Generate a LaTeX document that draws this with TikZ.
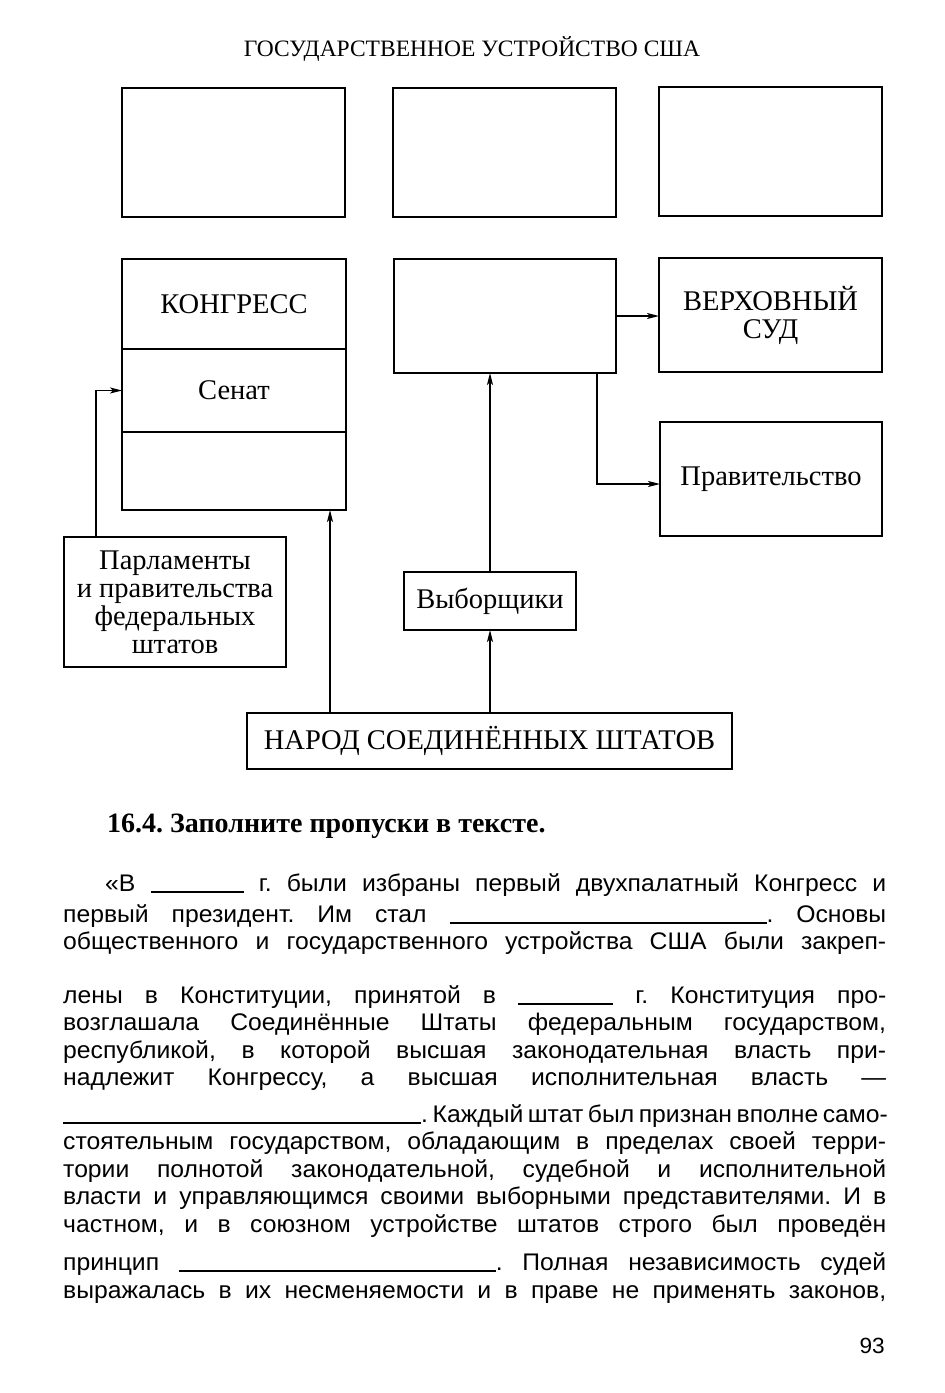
\documentclass[tikz,border=0pt]{standalone}
\usepackage{fontspec}
\setmainfont{Liberation Serif}
\newfontfamily\bodyfont{Liberation Sans}[FakeStretch=1.03]
\usetikzlibrary{arrows.meta, positioning}
\tikzset{
  usbox/.style={draw, line width=1.5pt, inner sep=0pt, outer sep=0pt, align=center, font=\fontsize{28.5}{28}\selectfont},
  blankbox/.style={usbox, minimum width=223pt, minimum height=129pt},
  usarrow/.style={-{Stealth[length=12pt, width=6pt, inset=3pt]}, line width=1.2pt},
  txtline/.style={anchor=base west, inner sep=0pt, font=\bodyfont\fontsize{24}{28}\selectfont},
}
\newcommand{\blank}[1]{\rule[-1.5pt]{#1pt}{1.2pt}}
\frenchspacing

\begin{document}
\begin{tikzpicture}[x=1pt, y=-1pt]
  \useasboundingbox (0,0) rectangle (945,1393);
  \node[anchor=base, inner sep=0pt, font=\fontsize{23.5}{24}\selectfont] (title) at (472,56) {ГОСУДАРСТВЕННОЕ УСТРОЙСТВО США};
  % empty boxes to fill in
  \node[blankbox] (box1) at (233.5,152.5) {};
  \node[blankbox] (box2) at (504.5,152.5) {};
  \node[blankbox] (box3) at (770.5,151.5) {};
  % congress
  \node[usbox, minimum width=224pt, minimum height=90pt] (kongr) at (234,304) {КОНГРЕСС};
  \node[usbox, minimum width=224pt, minimum height=83pt, below=0pt of kongr] (senat) {Сенат};
  \node[usbox, minimum width=224pt, minimum height=78pt, below=0pt of senat] (lower) {};
  \node[usbox, minimum width=222pt, minimum height=114pt] (exec) at (505,316) {};
  \node[usbox, minimum width=223pt, minimum height=114pt] (court) at (770.5,315) {ВЕРХОВНЫЙ\\СУД};
  \node[usbox, minimum width=222pt, minimum height=114pt] (gov) at (771,479) {Правительство};
  \node[usbox, minimum width=222pt, minimum height=130pt] (parl) at (175,602) {Парламенты\\и правительства\\федеральных\\штатов};
  \node[usbox, minimum width=172pt, minimum height=58pt] (elect) at (490,601) {Выборщики};
  \node[usbox, minimum width=485pt, minimum height=56pt] (people) at (489.5,741) {НАРОД СОЕДИНЁННЫХ ШТАТОВ};
  % connectors
  \coordinate (pk) at ([xshift=83pt]people.north west);
  \coordinate (pp) at ([xshift=32pt]parl.north west);
  \coordinate (ex) at ([xshift=-19pt]exec.south east);
  \draw[usarrow] (pk) -- (pk |- lower.south);
  \draw[usarrow] (pp) |- (senat.west);
  \draw[usarrow] (elect.south |- people.north) -- (elect.south);
  \draw[usarrow] (elect.north) -- (elect.north |- exec.south);
  \draw[usarrow] (exec.east) -- (exec.east -| court.west);
  \draw[usarrow] (ex) |- ([yshift=-5pt]gov.west);
  % exercise text
  \node[anchor=base west, inner sep=0pt, font=\bfseries\fontsize{28}{30}\selectfont] (task) at (107,832) {16.4. Заполните пропуски в тексте.};
  \node[txtline] (l1) at (105,891) {\makebox[781pt][s]{«В \blank{93} г. были избраны первый двухпалатный Конгресс и}};
  \node[txtline] (l2) at (63,922) {\makebox[823pt][s]{первый президент. Им стал \blank{317}. Основы}};
  \node[txtline] (l3) at (63,949) {\makebox[823pt][s]{общественного и государственного устройства США были закреп-}};
  \node[txtline] (l4) at (63,1003) {\makebox[823pt][s]{лены в Конституции, принятой в \blank{95} г. Конституция про-}};
  \node[txtline] (l5) at (63,1030.5) {\makebox[823pt][s]{возглашала Соединённые Штаты федеральным государством,}};
  \node[txtline] (l6) at (63,1058) {\makebox[823pt][s]{республикой, в которой высшая законодательная власть при-}};
  \node[txtline] (l7) at (63,1085.5) {\makebox[823pt][s]{надлежит Конгрессу, а высшая исполнительная власть —}};
  \node[txtline] (l8) at (63,1122) {\makebox[823pt][s]{\blank{358}. Каждый штат был признан вполне само-}};
  \node[txtline] (l9) at (63,1149.5) {\makebox[823pt][s]{стоятельным государством, обладающим в пределах своей терри-}};
  \node[txtline] (l10) at (63,1177) {\makebox[823pt][s]{тории полнотой законодательной, судебной и исполнительной}};
  \node[txtline] (l11) at (63,1204.5) {\makebox[823pt][s]{власти и управляющимся своими выборными представителями. И в}};
  \node[txtline] (l12) at (63,1232) {\makebox[823pt][s]{частном, и в союзном устройстве штатов строго был проведён}};
  \node[txtline] (l13) at (63,1270) {\makebox[823pt][s]{принцип \blank{317}. Полная независимость судей}};
  \node[txtline] (l14) at (63,1298) {\makebox[823pt][s]{выражалась в их несменяемости и в праве не применять законов,}};
  \node[anchor=base east, inner sep=0pt, font=\bodyfont\fontsize{22}{24}\selectfont] (page) at (885,1353) {93};
\end{tikzpicture}
\end{document}
